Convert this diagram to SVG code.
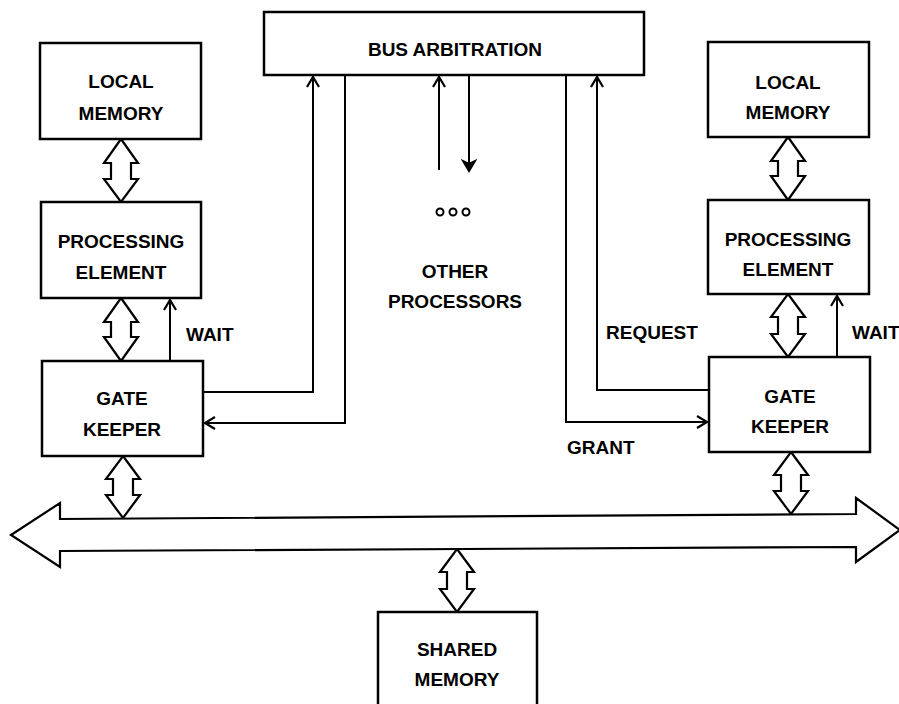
<svg xmlns="http://www.w3.org/2000/svg" width="899" height="704" viewBox="0 0 899 704">
<style>
.box{fill:#fff;stroke:#000;stroke-width:2.5}
.dbl{fill:#fff;stroke:#000;stroke-width:2.2;stroke-linejoin:miter}
.ln{fill:none;stroke:#000;stroke-width:2}
text{font-family:"Liberation Sans",Arial,sans-serif;font-weight:bold;font-size:19px;fill:#000;text-anchor:middle}
.l{text-anchor:start}
</style>
<defs>
<marker id="ah" markerUnits="userSpaceOnUse" markerWidth="16" markerHeight="16" viewBox="-12 -8 14 16" refX="0" refY="0" orient="auto">
<path d="M-10,-6 L0,0 L-10,6" fill="none" stroke="#000" stroke-width="2.2"/>
</marker>
<marker id="ahf" markerUnits="userSpaceOnUse" markerWidth="16" markerHeight="16" viewBox="-12 -8 14 16" refX="0" refY="0" orient="auto">
<path d="M-10,-6 L0,0 L-10,6 L-7,0 Z" fill="#000" stroke="#000" stroke-width="2"/>
</marker>
</defs>

<g id="connectors">
<polyline class="ln" points="203,392 313,392 313,77" marker-end="url(#ah)"/>
<polyline class="ln" points="345,75 345,423 205,423" marker-end="url(#ah)"/>
<polyline class="ln" points="709,390 597,390 597,77" marker-end="url(#ah)"/>
<polyline class="ln" points="566,75 566,422 707,422" marker-end="url(#ah)"/>
<line class="ln" x1="439" y1="170" x2="439" y2="77" marker-end="url(#ah)"/>
<line class="ln" x1="469" y1="75" x2="469" y2="171" marker-end="url(#ahf)"/>
<line class="ln" x1="170" y1="361" x2="170" y2="300" marker-end="url(#ah)"/>
<line class="ln" x1="837" y1="357" x2="837" y2="296" marker-end="url(#ah)"/>
<path class="dbl" d="M121,139 L138,163 L131,163 L131,179 L138,179 L121,202 L104,179 L111,179 L111,163 L104,163 Z"/>
<path class="dbl" d="M121,298 L138,322 L131,322 L131,337 L138,337 L121,361 L104,337 L111,337 L111,322 L104,322 Z"/>
<path class="dbl" d="M123,456 L140,479 L133,479 L133,495 L140,495 L123,518 L106,495 L113,495 L113,479 L106,479 Z"/>
<path class="dbl" d="M788,137 L805,161 L798,161 L798,176 L805,176 L788,200 L771,176 L778,176 L778,161 L771,161 Z"/>
<path class="dbl" d="M788,294 L805,317 L798,317 L798,334 L805,334 L788,357 L771,334 L778,334 L778,317 L771,317 Z"/>
<path class="dbl" d="M791,452 L808,475 L801,475 L801,491 L808,491 L791,514 L774,491 L781,491 L781,475 L774,475 Z"/>
<path class="dbl" d="M457,549 L474,572 L467,572 L467,589 L474,589 L457,612 L440,589 L447,589 L447,572 L440,572 Z"/>
</g>

<g id="bus">
<path class="dbl" d="M11,535 L60,503 L60,519 L856,514 L856,498 L900,530 L856,562 L856,547 L60,551 L60,567 Z"/>
</g>

<g id="bus-arbitration">
<rect class="box" x="264" y="12" width="380" height="63"/>
<text x="455" y="56">BUS ARBITRATION</text>
</g>

<g id="local-memory-left">
<rect class="box" x="40" y="43" width="161" height="96"/>
<text x="121" y="88">LOCAL</text>
<text x="121" y="120">MEMORY</text>
</g>
<g id="processing-element-left">
<rect class="box" x="41" y="202" width="160" height="96"/>
<text x="121" y="248">PROCESSING</text>
<text x="121" y="279">ELEMENT</text>
</g>
<g id="gate-keeper-left">
<rect class="box" x="42" y="361" width="161" height="95"/>
<text x="122" y="405">GATE</text>
<text x="122" y="436">KEEPER</text>
</g>

<g id="local-memory-right">
<rect class="box" x="708" y="42" width="161" height="95"/>
<text x="788" y="89">LOCAL</text>
<text x="788" y="119">MEMORY</text>
</g>
<g id="processing-element-right">
<rect class="box" x="708" y="200" width="161" height="94"/>
<text x="788" y="246">PROCESSING</text>
<text x="788" y="276">ELEMENT</text>
</g>
<g id="gate-keeper-right">
<rect class="box" x="709" y="357" width="161" height="95"/>
<text x="790" y="403">GATE</text>
<text x="790" y="433">KEEPER</text>
</g>

<g id="shared-memory">
<rect class="box" x="378" y="612" width="159" height="100"/>
<text x="457" y="656">SHARED</text>
<text x="457" y="686">MEMORY</text>
</g>

<g id="other-processors">
<circle cx="440" cy="212" r="3.5" fill="none" stroke="#000" stroke-width="2"/>
<circle cx="453" cy="212" r="3.5" fill="none" stroke="#000" stroke-width="2"/>
<circle cx="466" cy="212" r="3.5" fill="none" stroke="#000" stroke-width="2"/>
<text x="455" y="278">OTHER</text>
<text x="455" y="308">PROCESSORS</text>
</g>

<g id="labels">
<text class="l" x="186" y="341">WAIT</text>
<text class="l" x="852" y="339">WAIT</text>
<text class="l" x="606" y="339">REQUEST</text>
<text class="l" x="567" y="454">GRANT</text>
</g>
</svg>
